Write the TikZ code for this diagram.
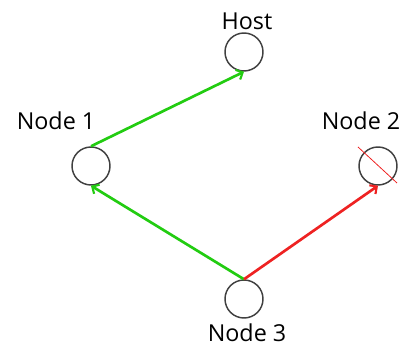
\documentclass[tikz,border=0pt]{standalone}
\usepackage{fontspec}
\setmainfont{Open Sans}
\usepackage{tikz}
\usetikzlibrary{calc,arrows.meta}
\definecolor{ring}{HTML}{404040}
\definecolor{ok}{HTML}{22CC11}
\definecolor{bad}{HTML}{EE2222}
\tikzset{
  peer/.style={circle, draw=ring, line width=1.1pt, minimum size=28.5pt, inner sep=0pt},
  lab/.style={text=black, font=\fontsize{17.5}{20}\selectfont},
  hop/.style={line width=2pt, -{Straight Barb[length=4pt,width=8pt,line width=1.6pt]}},
  good/.style={hop, draw=ok},
  fail/.style={hop, draw=bad},
  cut/.style={draw=bad, line width=0.6pt},
}

\begin{document}
\begin{tikzpicture}[x=0.75pt,y=-0.75pt]
  \useasboundingbox (0,0) rectangle (404,348);

  \node[peer] (host) at (244,52) {};
  \node[peer] (n1) at (91,166) {};
  \node[peer] (n2) at (378,166) {};
  \node[peer] (n3) at (244,299) {};

  \node[lab] (lhost) at (247,21) {Host};
  \node[lab] (ln1) at (56,121) {Node 1};
  \node[lab] (ln2) at (361,121) {Node 2};
  \node[lab] (ln3) at (247,333) {Node 3};

  \draw[good] (n1.north) -- (host.south);
  \draw[good] (n3.north) -- (n1.south);
  \draw[fail] (n3.north) -- (n2.south);

  % node 2 is down
  \draw[cut] ($(n2)+(-20,-19)$) -- ($(n2)+(19,17)$);
\end{tikzpicture}
\end{document}
